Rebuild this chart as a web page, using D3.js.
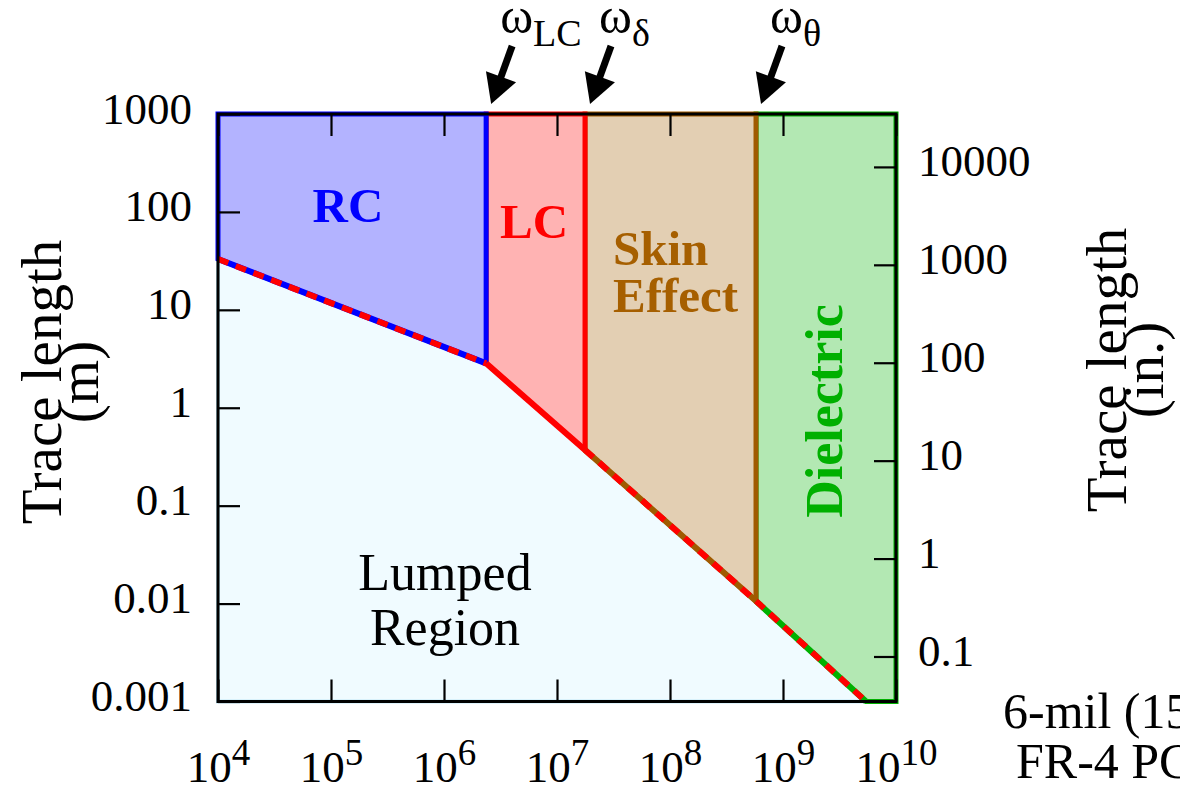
<!DOCTYPE html>
<html>
<head>
<meta charset="utf-8">
<script src="https://cdn.jsdelivr.net/npm/d3@7"></script>
<style>
  body { margin: 0; background: #fff; }
  svg { display: block; font-family: "Liberation Serif", "DejaVu Serif", serif; }
</style>
</head>
<body>
<svg></svg>
<script>
const width = 1180;
const height = 788;
const svg = d3.select("svg").attr("width", width).attr("height", height);

// break points of the lumped-region boundary (frequency, trace length in m)
const boundaryF = [1e4, 2.36e6, 1.77e7, 5.77e8, 5.43e9];
const boundaryL = [33.0, 2.84, 0.37, 0.0106, 0.001];

const regionNames = ["RC", "LC", "Skin Effect", "Dielectric"];
const regionFill = ["#b3b3ff", "#ffb3b3", "#e3cfb3", "#b3e8b3"];
const regionStroke = ["#0000ff", "#ff0000", "#a05a00", "#00b000"];
const markerNames = ["LC", "δ", "θ"];

const xTicks = [1e4, 1e5, 1e6, 1e7, 1e8, 1e9, 1e10];
const xTickExp = ["4", "5", "6", "7", "8", "9", "10"];
const yTicks = [0.001, 0.01, 0.1, 1, 10, 100, 1000];
const yTickLabels = ["0.001", "0.01", "0.1", "1", "10", "100", "1000"];
const y2Ticks = [0.1, 1, 10, 100, 1000, 10000];
const y2TickLabels = ["0.1", "1", "10", "100", "1000", "10000"];

const mLeft = 218, mRight = 896, mTop = 114, mBottom = 701.5;

const x = d3.scaleLog().domain([1e4, 1e10]).range([mLeft, mRight]);
const y = d3.scaleLog().domain([1e-3, 1e3]).range([mBottom, mTop]);
const y2 = d3.scaleLog().domain([0.0347, 34700]).range([mBottom, mTop]);

const pts = boundaryF.map((f, i) => ({f: f, L: boundaryL[i]}));
const line = d3.line().x(d => x(d.f)).y(d => y(d.L));

const yMax = 1000, yMin = 0.001, fMax = 1e10;
const edgeW = 5;

// lumped region (below the boundary)
const lumped = pts.concat([{f: boundaryF[0], L: yMin}]);
svg.append("path")
  .attr("d", line(lumped) + "Z")
  .attr("fill", "#f0fbff")
  .attr("stroke", "#bfe8f7")
  .attr("stroke-width", 4);

// the four regions above the boundary
const regions = [
  [{f: boundaryF[0], L: yMax}, {f: boundaryF[1], L: yMax}, pts[1], pts[0]],
  [{f: boundaryF[1], L: yMax}, {f: boundaryF[2], L: yMax}, pts[2], pts[1]],
  [{f: boundaryF[2], L: yMax}, {f: boundaryF[3], L: yMax}, pts[3], pts[2]],
  [{f: boundaryF[3], L: yMax}, {f: fMax, L: yMax}, {f: fMax, L: yMin}, pts[4], pts[3]]
];

// draw right to left so the left region's edge stays on top
for (let i = regions.length - 1; i >= 0; i--) {
  svg.append("path")
    .attr("d", line(regions[i]) + "Z")
    .attr("fill", regionFill[i])
    .attr("stroke", regionStroke[i])
    .attr("stroke-width", edgeW)
    .attr("stroke-linejoin", "miter");
}

// coloured lower edges, then the red dashed boundary over them
for (let i = 0; i < 4; i++) {
  svg.append("path")
    .attr("d", line([pts[i], pts[i + 1]]))
    .attr("fill", "none")
    .attr("stroke", regionStroke[i])
    .attr("stroke-width", 6);
}
svg.append("path")
  .attr("d", line(pts.slice(0, 2)))
  .attr("fill", "none")
  .attr("stroke", "#ff0000")
  .attr("stroke-width", 6)
  .attr("stroke-dasharray", "11,8");
svg.append("path")
  .attr("d", line(pts.slice(2)))
  .attr("fill", "none")
  .attr("stroke", "#ff0000")
  .attr("stroke-width", 6)
  .attr("stroke-dasharray", "11,8");

// frame
svg.append("rect")
  .attr("x", mLeft).attr("y", mTop)
  .attr("width", mRight - mLeft).attr("height", mBottom - mTop)
  .attr("fill", "none")
  .attr("stroke", "#000")
  .attr("stroke-width", 3);

// axes
const tickLen = -22;
const gl = svg.append("g").attr("transform", `translate(${mLeft},0)`)
  .call(d3.axisLeft(y).tickValues(yTicks).tickFormat((d, i) => yTickLabels[i])
    .tickSizeInner(tickLen).tickSizeOuter(0).tickPadding(26));
const gr = svg.append("g").attr("transform", `translate(${mRight},0)`)
  .call(d3.axisRight(y2).tickValues(y2Ticks).tickFormat((d, i) => y2TickLabels[i])
    .tickSizeInner(tickLen).tickSizeOuter(0).tickPadding(22));
const gb = svg.append("g").attr("transform", `translate(0,${mBottom})`)
  .call(d3.axisBottom(x).tickValues(xTicks).tickFormat(null)
    .tickSizeInner(tickLen).tickSizeOuter(0));
const gt = svg.append("g").attr("transform", `translate(0,${mTop})`)
  .call(d3.axisTop(x).tickValues(xTicks)
    .tickSizeInner(tickLen).tickSizeOuter(0));

gt.selectAll(".tick text").remove();

[gl, gr, gb, gt].forEach(g => {
  g.select(".domain").remove();
  g.selectAll(".tick line").attr("stroke", "#000").attr("stroke-width", 2.2);
  g.selectAll(".tick text")
    .attr("font-family", "Liberation Serif, serif")
    .attr("font-size", 45)
    .attr("fill", "#000")
    .attr("dy", "0.2em");
});

// powers of ten under the x axis
gb.selectAll(".tick text").each(function(d, i) {
  const t = d3.select(this)
    .text(null)
    .attr("y", 80)
    .attr("dy", null)
    .attr("text-anchor", "middle");
  t.append("tspan").text("10");
  t.append("tspan").attr("dy", -17).attr("font-size", 37).text(xTickExp[i]);
});

// axis titles
function vtitle(cx, cy, lines) {
  const g = svg.append("g").attr("transform", `translate(${cx},${cy}) rotate(-90)`);
  lines.forEach((s, i) => {
    g.append("text")
      .attr("x", 0).attr("y", i * 37)
      .attr("text-anchor", "middle")
      .attr("font-size", 57)
      .attr("fill", "#000")
      .text(s);
  });
}
vtitle(61, 382, ["Trace length", "(m)"]);
vtitle(1126, 370, ["Trace length", "(in.)"]);

// region labels
const labelSize = 49;
svg.append("text").attr("x", 348).attr("y", 222).attr("text-anchor", "middle")
  .attr("font-size", labelSize).attr("font-weight", "bold")
  .attr("fill", regionStroke[0]).text(regionNames[0]);
svg.append("text").attr("x", 534).attr("y", 238).attr("text-anchor", "middle")
  .attr("font-size", labelSize).attr("font-weight", "bold")
  .attr("fill", regionStroke[1]).text(regionNames[1]);
regionNames[2].split(" ").forEach((s, i) => {
  svg.append("text").attr("x", 613).attr("y", 265 + i * 47)
    .attr("font-size", labelSize).attr("font-weight", "bold")
    .attr("fill", "#a65f00").text(s);
});
svg.append("text")
  .attr("transform", "translate(842,411) rotate(-90)")
  .attr("text-anchor", "middle")
  .attr("font-size", 52).attr("font-weight", "bold")
  .attr("fill", regionStroke[3]).text(regionNames[3]);

["Lumped", "Region"].forEach((s, i) => {
  svg.append("text").attr("x", 445).attr("y", 590 + i * 55)
    .attr("text-anchor", "middle")
    .attr("font-size", 52).attr("fill", "#000").text(s);
});

// omega markers with arrows
markerNames.forEach((name, i) => {
  const fx = x(boundaryF[i + 1]);
  const t = svg.append("text").attr("x", fx + 14).attr("y", 33)
    .attr("font-size", 50).attr("fill", "#000");
  t.append("tspan").text("ω");
  t.append("tspan").attr("dy", 13).attr("font-size", 38).text(name);

  const tail = [fx + 26, 46], tip = [fx + 5, 104];
  const dx = tip[0] - tail[0], dy = tip[1] - tail[1];
  const len = Math.hypot(dx, dy);
  const ux = dx / len, uy = dy / len;
  const hl = 29, hw = 16;
  const bx = tip[0] - hl * ux, by = tip[1] - hl * uy;
  svg.append("line")
    .attr("x1", tail[0]).attr("y1", tail[1])
    .attr("x2", bx + 2 * ux).attr("y2", by + 2 * uy)
    .attr("stroke", "#000").attr("stroke-width", 7);
  svg.append("path")
    .attr("d", `M${tip[0]},${tip[1]}L${bx - hw * uy},${by + hw * ux}L${bx + hw * uy},${by - hw * ux}Z`)
    .attr("fill", "#000");
});

// trace description at the lower right
["6-mil (150 μm)", "FR-4 PCB"].forEach((s, i) => {
  svg.append("text").attr("x", 1003 + i * 13).attr("y", 728 + i * 50)
    .attr("font-size", 50).attr("fill", "#000").text(s);
});
</script>
</body>
</html>
